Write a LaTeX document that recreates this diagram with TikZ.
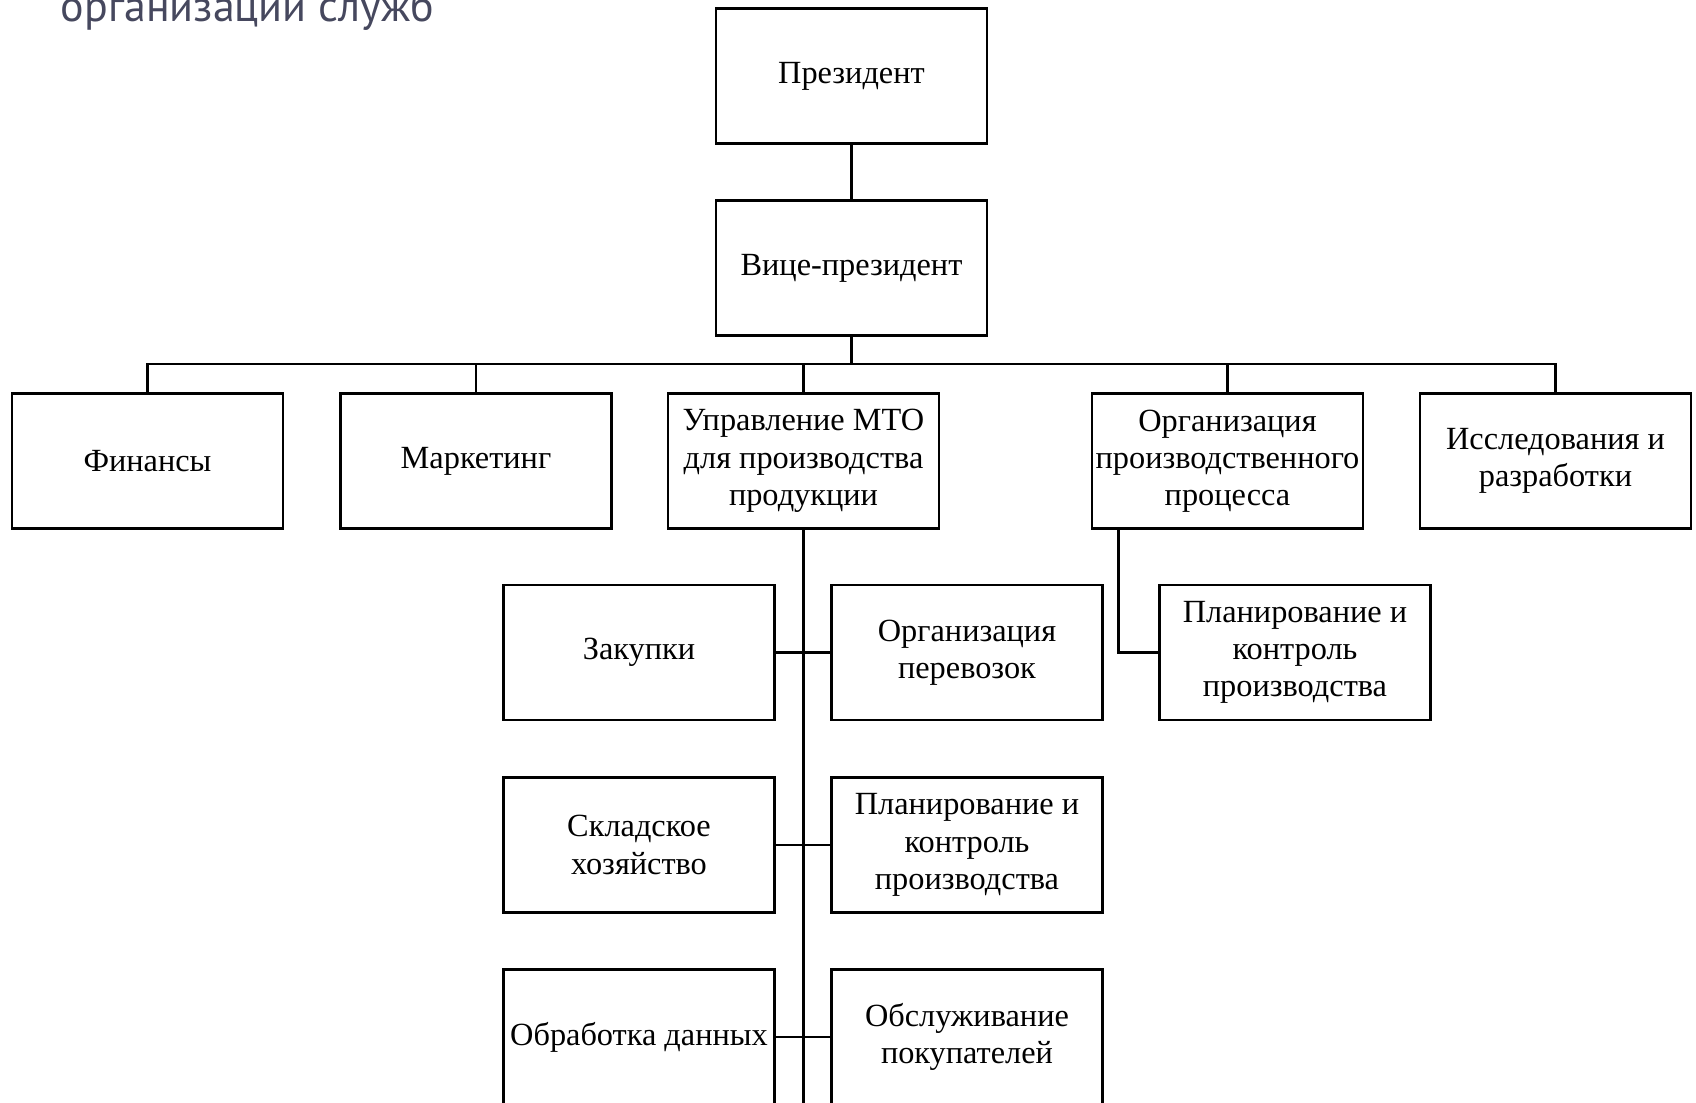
\documentclass[tikz,border=0pt]{standalone}
\usepackage{fontspec}
\setmainfont{Liberation Serif}
\newfontfamily\titlefont{PT Sans}
\definecolor{titlegray}{RGB}{70,72,94}

\tikzstyle{box}=[draw,rectangle,line width=0.8pt,minimum width=2.71cm,minimum height=1.35cm,inner sep=1pt,align=center,font=\fontsize{9.2}{10.6}\selectfont]
\tikzstyle{ln}=[line width=0.8pt]

\begin{document}
\begin{tikzpicture}
  \clip (0,0) rectangle (16.96,-11.03);
  \useasboundingbox (0,0) rectangle (16.96,-11.03);

  \node[anchor=base west,text=titlegray,font=\titlefont\fontsize{12.5}{14}\selectfont,inner sep=0pt] (title) at (0.60,-0.22) {организации служб};

  \node[box] (pres) at (8.515,-0.76) {Президент};
  \node[box] (vice) at (8.515,-2.68) {Вице-президент};

  \node[box] (fin) at (1.475,-4.61) {Финансы};
  \node[box] (mar) at (4.76,-4.61) {Маркетинг};
  \node[box] (upr) at (8.035,-4.61) {Управление МТО\\для производства\\продукции};
  \node[box] (orgp) at (12.275,-4.61) {Организация\\производственного\\процесса};
  \node[box] (isd) at (15.555,-4.61) {Исследования и\\разработки};

  \node[box] (zak) at (6.39,-6.525) {Закупки};
  \node[box] (per) at (9.67,-6.525) {Организация\\перевозок};
  \node[box] (plan) at (12.95,-6.525) {Планирование и\\контроль\\производства};

  \node[box] (skl) at (6.39,-8.45) {Складское\\хозяйство};
  \node[box] (plk) at (9.67,-8.45) {Планирование и\\контроль\\производства};

  \node[box] (obr) at (6.39,-10.37) {Обработка данных};
  \node[box] (obs) at (9.67,-10.37) {Обслуживание\\покупателей};

  \coordinate (bus) at (0,-3.64);
  \coordinate (trunkend) at (8.035,-11.2);

  \path (pres) edge [ln] (vice);
  \draw[ln] (vice.south) -- (vice.south |- bus);
  \draw[ln] (fin.north) |- (bus -| isd.north) -- (isd.north);
  \draw[ln] (mar.north) -- (mar.north |- bus);
  \draw[ln] (upr.north) -- (upr.north |- bus);
  \draw[ln] (orgp.north) -- (orgp.north |- bus);

  \path (upr.south) edge [ln] (trunkend);
  \path (zak.east) edge [ln] (per.west);
  \path (skl.east) edge [ln] (plk.west);
  \path (obr.east) edge [ln] (obs.west);

  \draw[ln] ([xshift=0.28cm]orgp.south west) |- (plan.west);
\end{tikzpicture}
\end{document}
